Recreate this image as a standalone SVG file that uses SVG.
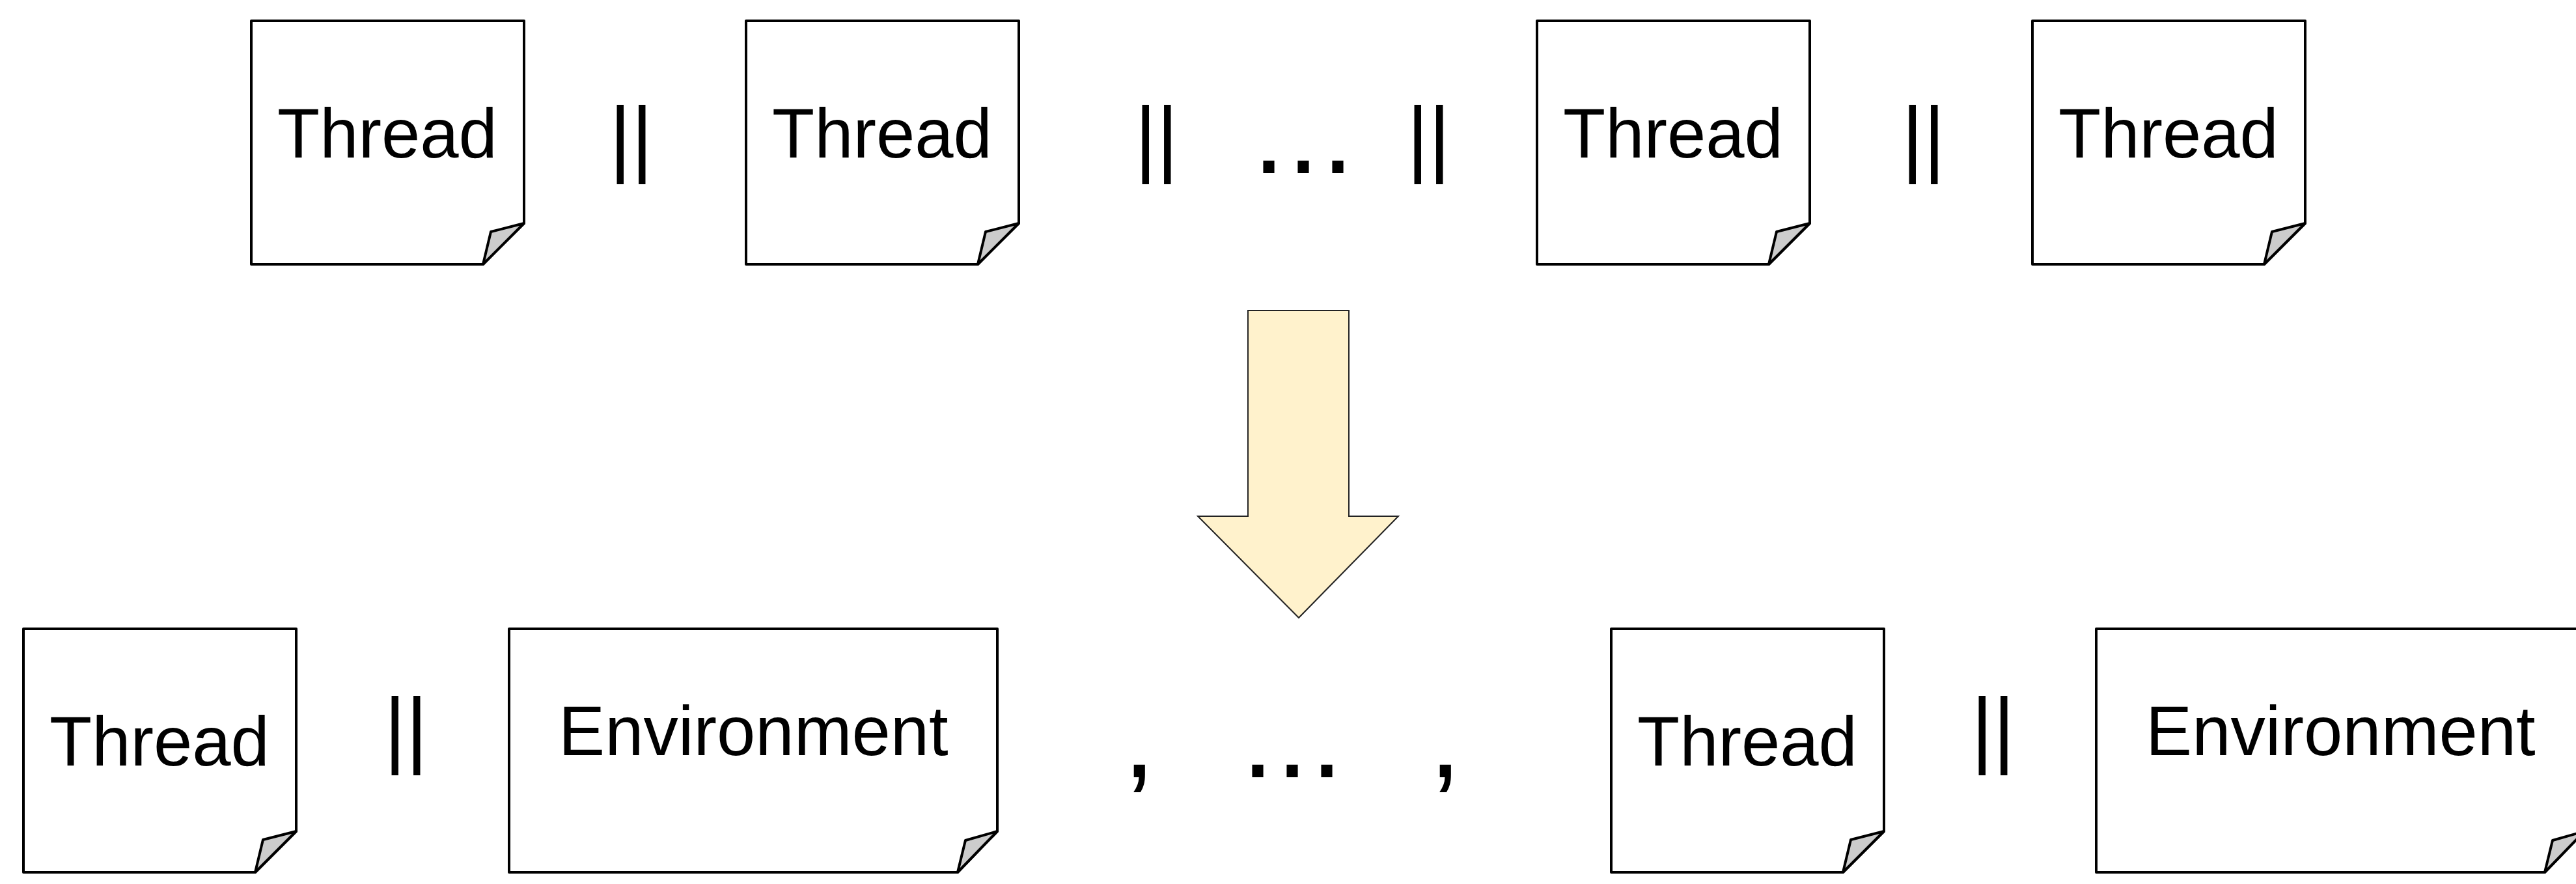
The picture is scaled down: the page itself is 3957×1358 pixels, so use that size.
<svg xmlns="http://www.w3.org/2000/svg" width="3957" height="1358" viewBox="0 0 3957 1358">
<style>
text{font-family:"Liberation Sans",Arial,sans-serif;fill:#000}
.l{font-size:106.67px}
.p{font-size:129px}
.d{font-size:180px;letter-spacing:3px}
.b{fill:#fff;stroke:#000;stroke-width:4;stroke-linejoin:round}
.f{fill:#ccc;stroke:#000;stroke-width:4;stroke-linejoin:round}
.a{fill:#FFF2CC;stroke:#222;stroke-width:2;stroke-linejoin:miter}
</style>
<defs>
<path id="tb" class="b" d="M0 0H419V311L356 374H0Z"/>
<path id="eb" class="b" d="M0 0H750V311L689 374H0Z"/>
<path id="tf" class="f" d="M356 374L368 324L419 311Z"/>
<path id="ef" class="f" d="M689 374L701 325L750 311Z"/>
</defs>
<rect width="3957" height="1358" fill="#fff"/>
<g id="connectors">
<path class="a" d="M1917 477H2072V793H2148L1995 949L1840 793H1917Z"/>
</g>
<g id="thread-top-1" transform="translate(386 32)"><use href="#tb"/><use href="#tf"/><text class="l" x="40" y="210">Thread</text></g>
<g id="thread-top-2" transform="translate(1146 32)"><use href="#tb"/><use href="#tf"/><text class="l" x="40" y="210">Thread</text></g>
<g id="thread-top-3" transform="translate(2361 32)"><use href="#tb"/><use href="#tf"/><text class="l" x="40" y="210">Thread</text></g>
<g id="thread-top-4" transform="translate(3122 32)"><use href="#tb"/><use href="#tf"/><text class="l" x="40" y="210">Thread</text></g>
<g id="thread-bottom-1" transform="translate(36 966)"><use href="#tb"/><use href="#tf"/><text class="l" x="40" y="210">Thread</text></g>
<g id="environment-1" transform="translate(782 966)"><use href="#eb"/><use href="#ef"/><text class="l" x="76" y="194">Environment</text></g>
<g id="thread-bottom-2" transform="translate(2475 966)"><use href="#tb"/><use href="#tf"/><text class="l" x="40" y="210">Thread</text></g>
<g id="environment-2" transform="translate(3220 966)"><use href="#eb"/><use href="#ef"/><text class="l" x="76" y="194">Environment</text></g>
<g id="operators">
<text class="p" x="936" y="255">||</text>
<text class="p" x="1743" y="255">||</text>
<text class="p" x="2161" y="255">||</text>
<text class="p" x="2921" y="255">||</text>
<text class="p" x="590" y="1163">||</text>
<text class="p" x="3028" y="1163">||</text>
<text class="d" x="1924" y="266">...</text>
<text class="d" x="1907" y="1194">...</text>
<text class="d" x="1725" y="1194">,</text>
<text class="d" x="2195" y="1194">,</text>
</g>
</svg>
